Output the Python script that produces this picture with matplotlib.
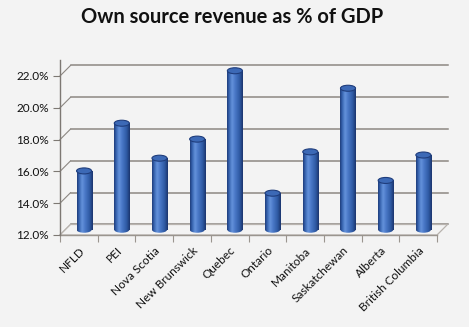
import matplotlib
matplotlib.use('Agg')
import matplotlib.pyplot as plt
import matplotlib.patches as mpatches
from matplotlib.colors import LinearSegmentedColormap
import numpy as np

# ── Data ──────────────────────────────────────────────────────────────────────
provinces = ['NFLD', 'PEI', 'Nova Scotia', 'New Brunswick', 'Quebec', 'Ontario',
             'Manitoba', 'Saskatchewan', 'Alberta', 'British Columbia']
revenue_pct = [15.7, 18.7, 16.5, 17.7, 22.0, 14.3, 16.9, 20.9, 15.1, 16.7]
y_ticks = [12, 14, 16, 18, 20, 22]

# ── Style ─────────────────────────────────────────────────────────────────────
BG = '#f3f3f3'
GRID = '#8c8782'
TEXT = '#111111'
plt.rcParams['font.family'] = ['Lato', 'DejaVu Sans']

W, H, DPI = 469, 327, 100
fig = plt.figure(figsize=(W / DPI, H / DPI), dpi=DPI)
fig.patch.set_facecolor(BG)

# axes frame = front plane of the 3D box (12% .. 23%)
ax_l, ax_r, ax_bot = 60, 437, 235
px_pct = 15.9
ax_top = ax_bot - 11 * px_pct
ax = fig.add_axes([ax_l / W, (H - ax_bot) / H, (ax_r - ax_l) / W, (ax_bot - ax_top) / H])
ax.set_facecolor('none')
n = len(provinces)

# depth offset of the back wall, converted to data units
px_cat = (ax_r - ax_l) / n
DEPTH = 10.5
DX, DY = DEPTH / px_cat, DEPTH / px_pct

for s in ax.spines.values():
    s.set_visible(False)

# back wall gridlines + left wall diagonals
for t in y_ticks:
    ax.plot([-0.5 + DX, n - 0.5 + DX], [t + DY, t + DY], color=GRID, lw=1.1,
            clip_on=False, zorder=1)
    ax.plot([-0.5, -0.5 + DX], [t, t + DY], color=GRID, lw=0.8, clip_on=False, zorder=1)

# floor outline
floor = mpatches.Polygon([(-0.5, 12), (n - 0.5, 12), (n - 0.5 + DX, 12 + DY), (-0.5 + DX, 12 + DY)],
                         closed=True, facecolor=BG, edgecolor='#b8b3ae', lw=0.9,
                         clip_on=False, zorder=1)
ax.add_patch(floor)
ax.plot([-0.5, n - 0.5], [12, 12], color='#9a958f', lw=1.0, clip_on=False, zorder=2)
# left vertical axis
ax.plot([-0.5, -0.5], [12, 23.0], color='#7d7873', lw=1.0, clip_on=False, zorder=2)

# cylinder shading
cyl = LinearSegmentedColormap.from_list('cyl', [
    (0.0, '#1d3a78'), (0.12, '#3461ad'), (0.32, '#6593dc'), (0.5, '#4a79c8'),
    (0.8, '#2f5aa4'), (1.0, '#1a346c')])
grad = np.linspace(0, 1, 64).reshape(1, -1)

bar_w = 0.4
ell_h = 6 / px_pct
base = 12 + DY / 2
for i, v in enumerate(revenue_pct):
    xc = i + DX / 2
    top = v + DY / 2
    rect = mpatches.Rectangle((xc - bar_w / 2, base), bar_w, top - base,
                              facecolor='none', edgecolor='none', zorder=3)
    ax.add_patch(rect)
    im = ax.imshow(grad, cmap=cyl, aspect='auto', zorder=3,
                   extent=(xc - bar_w / 2, xc + bar_w / 2, base - ell_h, top),
                   interpolation='bicubic')
    im.set_clip_path(rect)
    bottom = mpatches.Ellipse((xc, base), bar_w, ell_h, facecolor='none',
                              edgecolor='none', zorder=3)
    ax.add_patch(bottom)
    im2 = ax.imshow(grad, cmap=cyl, aspect='auto', zorder=3,
                    extent=(xc - bar_w / 2, xc + bar_w / 2, base - ell_h, top),
                    interpolation='bicubic')
    im2.set_clip_path(bottom)
    cap = mpatches.Ellipse((xc, top), bar_w, ell_h, facecolor='#3c69b6',
                           edgecolor='#1f3d7c', lw=0.8, zorder=4)
    ax.add_patch(cap)

ax.set_xlim(-0.5, n - 0.5)
ax.set_ylim(12, 23)

# ticks
ax.set_yticks(y_ticks)
ax.set_yticklabels([f'{t:.1f}%' for t in y_ticks], fontsize=8.5, color=TEXT)
ax.tick_params(axis='y', length=5, width=0.8, color='#7d7873', pad=3)
ax.set_xticks(range(n))
ax.set_xticklabels(provinces, rotation=45, ha='right', rotation_mode='anchor',
                   fontsize=8.5, color=TEXT)
ax.tick_params(axis='x', length=0, pad=7)
ax.set_xticks(np.arange(-0.5, n), minor=True)
ax.tick_params(axis='x', which='minor', length=5, width=0.8, color='#9a958f')

fig.text(232 / W, 1 - 17 / H, 'Own source revenue as % of GDP', ha='center', va='center',
         fontsize=14.5, fontweight='bold', color=TEXT)

fig.savefig('out.png', dpi=DPI, facecolor=BG)
